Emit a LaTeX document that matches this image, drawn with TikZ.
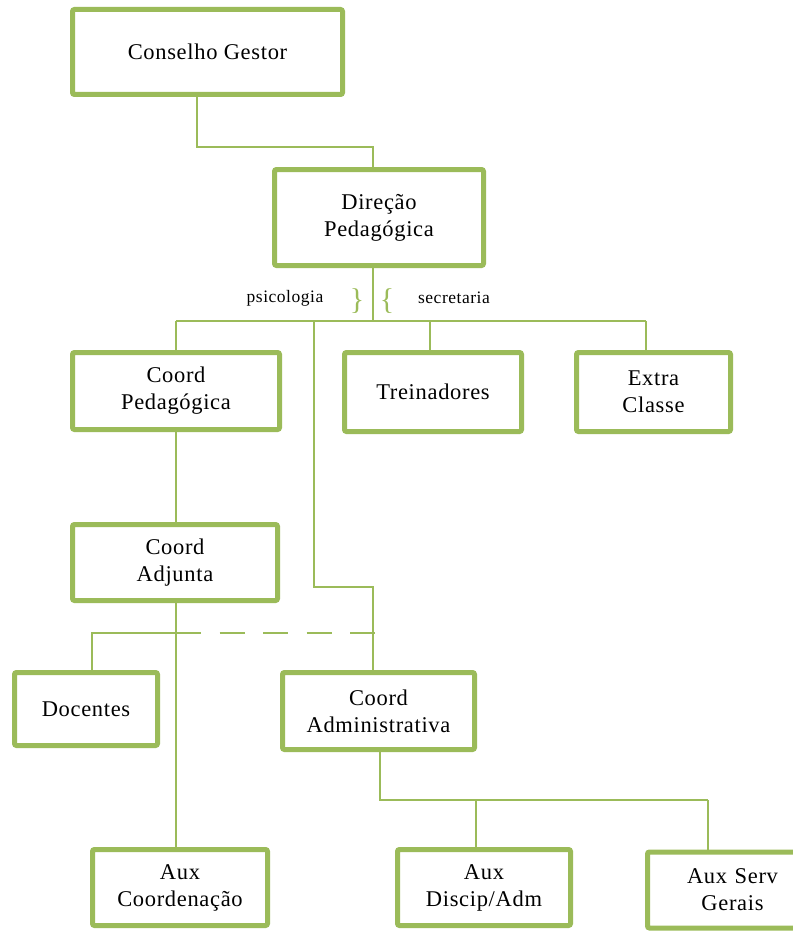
\documentclass[tikz,border=0pt]{standalone}
\usepackage{fontspec}
\setmainfont{Liberation Serif}[LetterSpace=3]
\definecolor{grn}{HTML}{9BBB59}
\tikzset{
  box/.style={draw=grn, line width=5pt, rounded corners=2pt, fill=white, align=center,
    inner sep=0pt, font=\fontsize{22.5}{27}\selectfont},
  conn/.style={draw=grn, line width=2pt},
  lbl/.style={font=\fontsize{17.5}{18}\selectfont, inner sep=0pt},
  brc/.style={text=grn, font=\fontsize{30}{30}\selectfont, inner sep=0pt}
}
\begin{document}
\begin{tikzpicture}[x=1pt,y=-1pt]
\useasboundingbox (0,0) rectangle (792,931);
\node[box, minimum width=270pt, minimum height=85pt] (cg) at (207.5,52) {Conselho Gestor};
\node[box, minimum width=209pt, minimum height=96pt] (dp) at (379,217.5) {Direção\\Pedagógica};
\node[box, minimum width=207pt, minimum height=77pt] (cp) at (176,391) {Coord\\Pedagógica};
\node[box, minimum width=177pt, minimum height=79pt] (tr) at (433,392) {Treinadores};
\node[box, minimum width=154pt, minimum height=79pt] (ec) at (653.5,392) {Extra\\Classe};
\node[box, minimum width=205pt, minimum height=76pt] (ca) at (175,562.5) {Coord\\Adjunta};
\node[box, minimum width=143pt, minimum height=73pt] (do) at (86,709) {Docentes};
\node[box, minimum width=192pt, minimum height=77pt] (cad) at (378.5,711) {Coord\\Administrativa};
\node[box, minimum width=175pt, minimum height=76pt] (ac) at (180,887.5) {Aux\\Coordenação};
\node[box, minimum width=173pt, minimum height=76pt] (ad) at (484,887.5) {Aux\\Discip/Adm};
\node[box, minimum width=170pt, minimum height=76pt, text width=140pt] (as) at (732.5,890) {Aux Serv\\Gerais};
\node[lbl] (psi) at (285,298) {psicologia};
\node[lbl] (sec) at (454,298) {secretaria};
\node[brc] (b1) at (357,301) {\}};
\node[brc] (b2) at (387,301) {\{};
\coordinate (bus) at (373,321);
\coordinate (psiturn) at (314,587);
\coordinate (admturn) at (373,587);
\coordinate (dashl) at (176,633);
\coordinate (dashr) at (375,633);
\coordinate (subbus) at (380,800);
% connectors
\draw[conn] (197,0 |- cg.south) |- (373,147) -- (373,0 |- dp.north);
\draw[conn] (373,0 |- dp.south) -- (bus);
\draw[conn] (176,321) -- (646,321);
\draw[conn] (176,321) -- (176,0 |- cp.north);
\draw[conn] (430,321) -- (430,0 |- tr.north);
\draw[conn] (646,321) -- (646,0 |- ec.north);
\draw[conn] (314,321) -- (psiturn) -- (admturn) -- (373,0 |- cad.north);
\draw[conn] (176,0 |- cp.south) -- (176,0 |- ca.north);
\draw[conn] (176,0 |- ca.south) -- (176,0 |- ac.north);
\draw[conn] (92,0 |- do.north) |- (dashl);
\draw[conn, dash pattern=on 25pt off 18.5pt] (dashl) -- (dashr);
\draw[conn] (380,0 |- cad.south) -- (subbus) -- (708,800);
\draw[conn] (476,800) -- (476,0 |- ad.north);
\draw[conn] (708,800) -- (708,0 |- as.north);
\end{tikzpicture}
\end{document}
